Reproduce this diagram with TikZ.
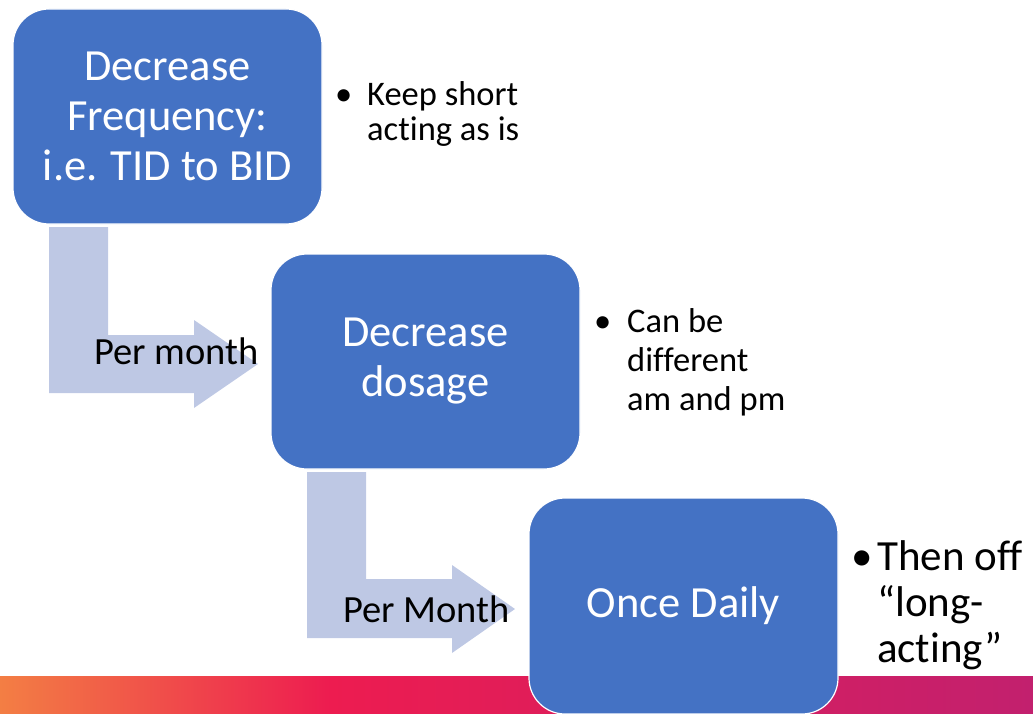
\documentclass[tikz,border=0pt]{standalone}
\usepackage{fontspec}
\setmainfont{Carlito}[Ligatures={NoCommon}]
\definecolor{boxblue}{RGB}{68,114,196}
\definecolor{arrowblue}{RGB}{190,200,228}
\definecolor{barorange}{RGB}{243,126,68}
\definecolor{barred}{RGB}{237,28,80}
\definecolor{barmag}{RGB}{194,32,110}
\begin{document}
\begin{tikzpicture}[x=1pt,y=-1pt,
  box/.style={draw=white, line width=1.2pt, fill=boxblue, rounded corners=36pt,
    minimum width=309pt, minimum height=215pt, inner sep=0pt, text=white,
    align=center, font=\fontsize{44.5}{50}\selectfont},
  bent/.style={fill=arrowblue, draw=none},
  lbl/.style={anchor=base west, inner sep=0pt, text=black},
  bul/.style={lbl, font=\fontsize{34.5}{38}\selectfont},
  bulbig/.style={lbl, font=\fontsize{43}{46}\selectfont},
  per/.style={lbl, font=\fontsize{38.5}{44}\selectfont}
]
\useasboundingbox (0,0) rectangle (1033,714);
% bottom gradient bar
\shade[left color=barorange, right color=barred] (0,676) rectangle (330,714);
\shade[left color=barred, right color=barmag] (329.5,676) rectangle (1033,714);
% bent arrows
\fill[bent] (49,227) -- (108,227) -- (108,335) -- (194,335) -- (194,320) -- (258,364)
  -- (194,408) -- (194,393) -- (49,393) -- cycle;
\fill[bent] (307,472) -- (366,472) -- (366,579) -- (452,579) -- (452,565) -- (515,609)
  -- (452,653) -- (452,638) -- (307,638) -- cycle;
% boxes
\node[box] (b1) at (167.5,116.5) {Decrease\\Frequency:\\i.e. TID to BID};
\node[box] (b2) at (425.5,361.5) {Decrease\\dosage};
\node[box, minimum height=216pt] (b3) at (683.5,606) {Once Daily};
% arrow labels
\node[per] (p1) at (94,364) {Per month};
\node[per] (p2) at (343,622) {Per Month};
% bullets
\node[bul] (d1) at (335,106) {•};
\node[bul] (t1a) at (367,106) {Keep short};
\node[bul] (t1b) at (367,141) {acting as is};
\node[bul] (d2) at (594,332) {•};
\node[bul] (t2a) at (627,332) {Can be};
\node[bul] (t2b) at (627,371) {different};
\node[bul] (t2c) at (627,410) {am and pm};
\node[bulbig] (d3) at (851,570) {•};
\node[bulbig] (t3a) at (877,570) {Then off};
\node[bulbig] (t3b) at (877,616) {“long-};
\node[bulbig] (t3c) at (877,662) {acting”};
\end{tikzpicture}
\end{document}
